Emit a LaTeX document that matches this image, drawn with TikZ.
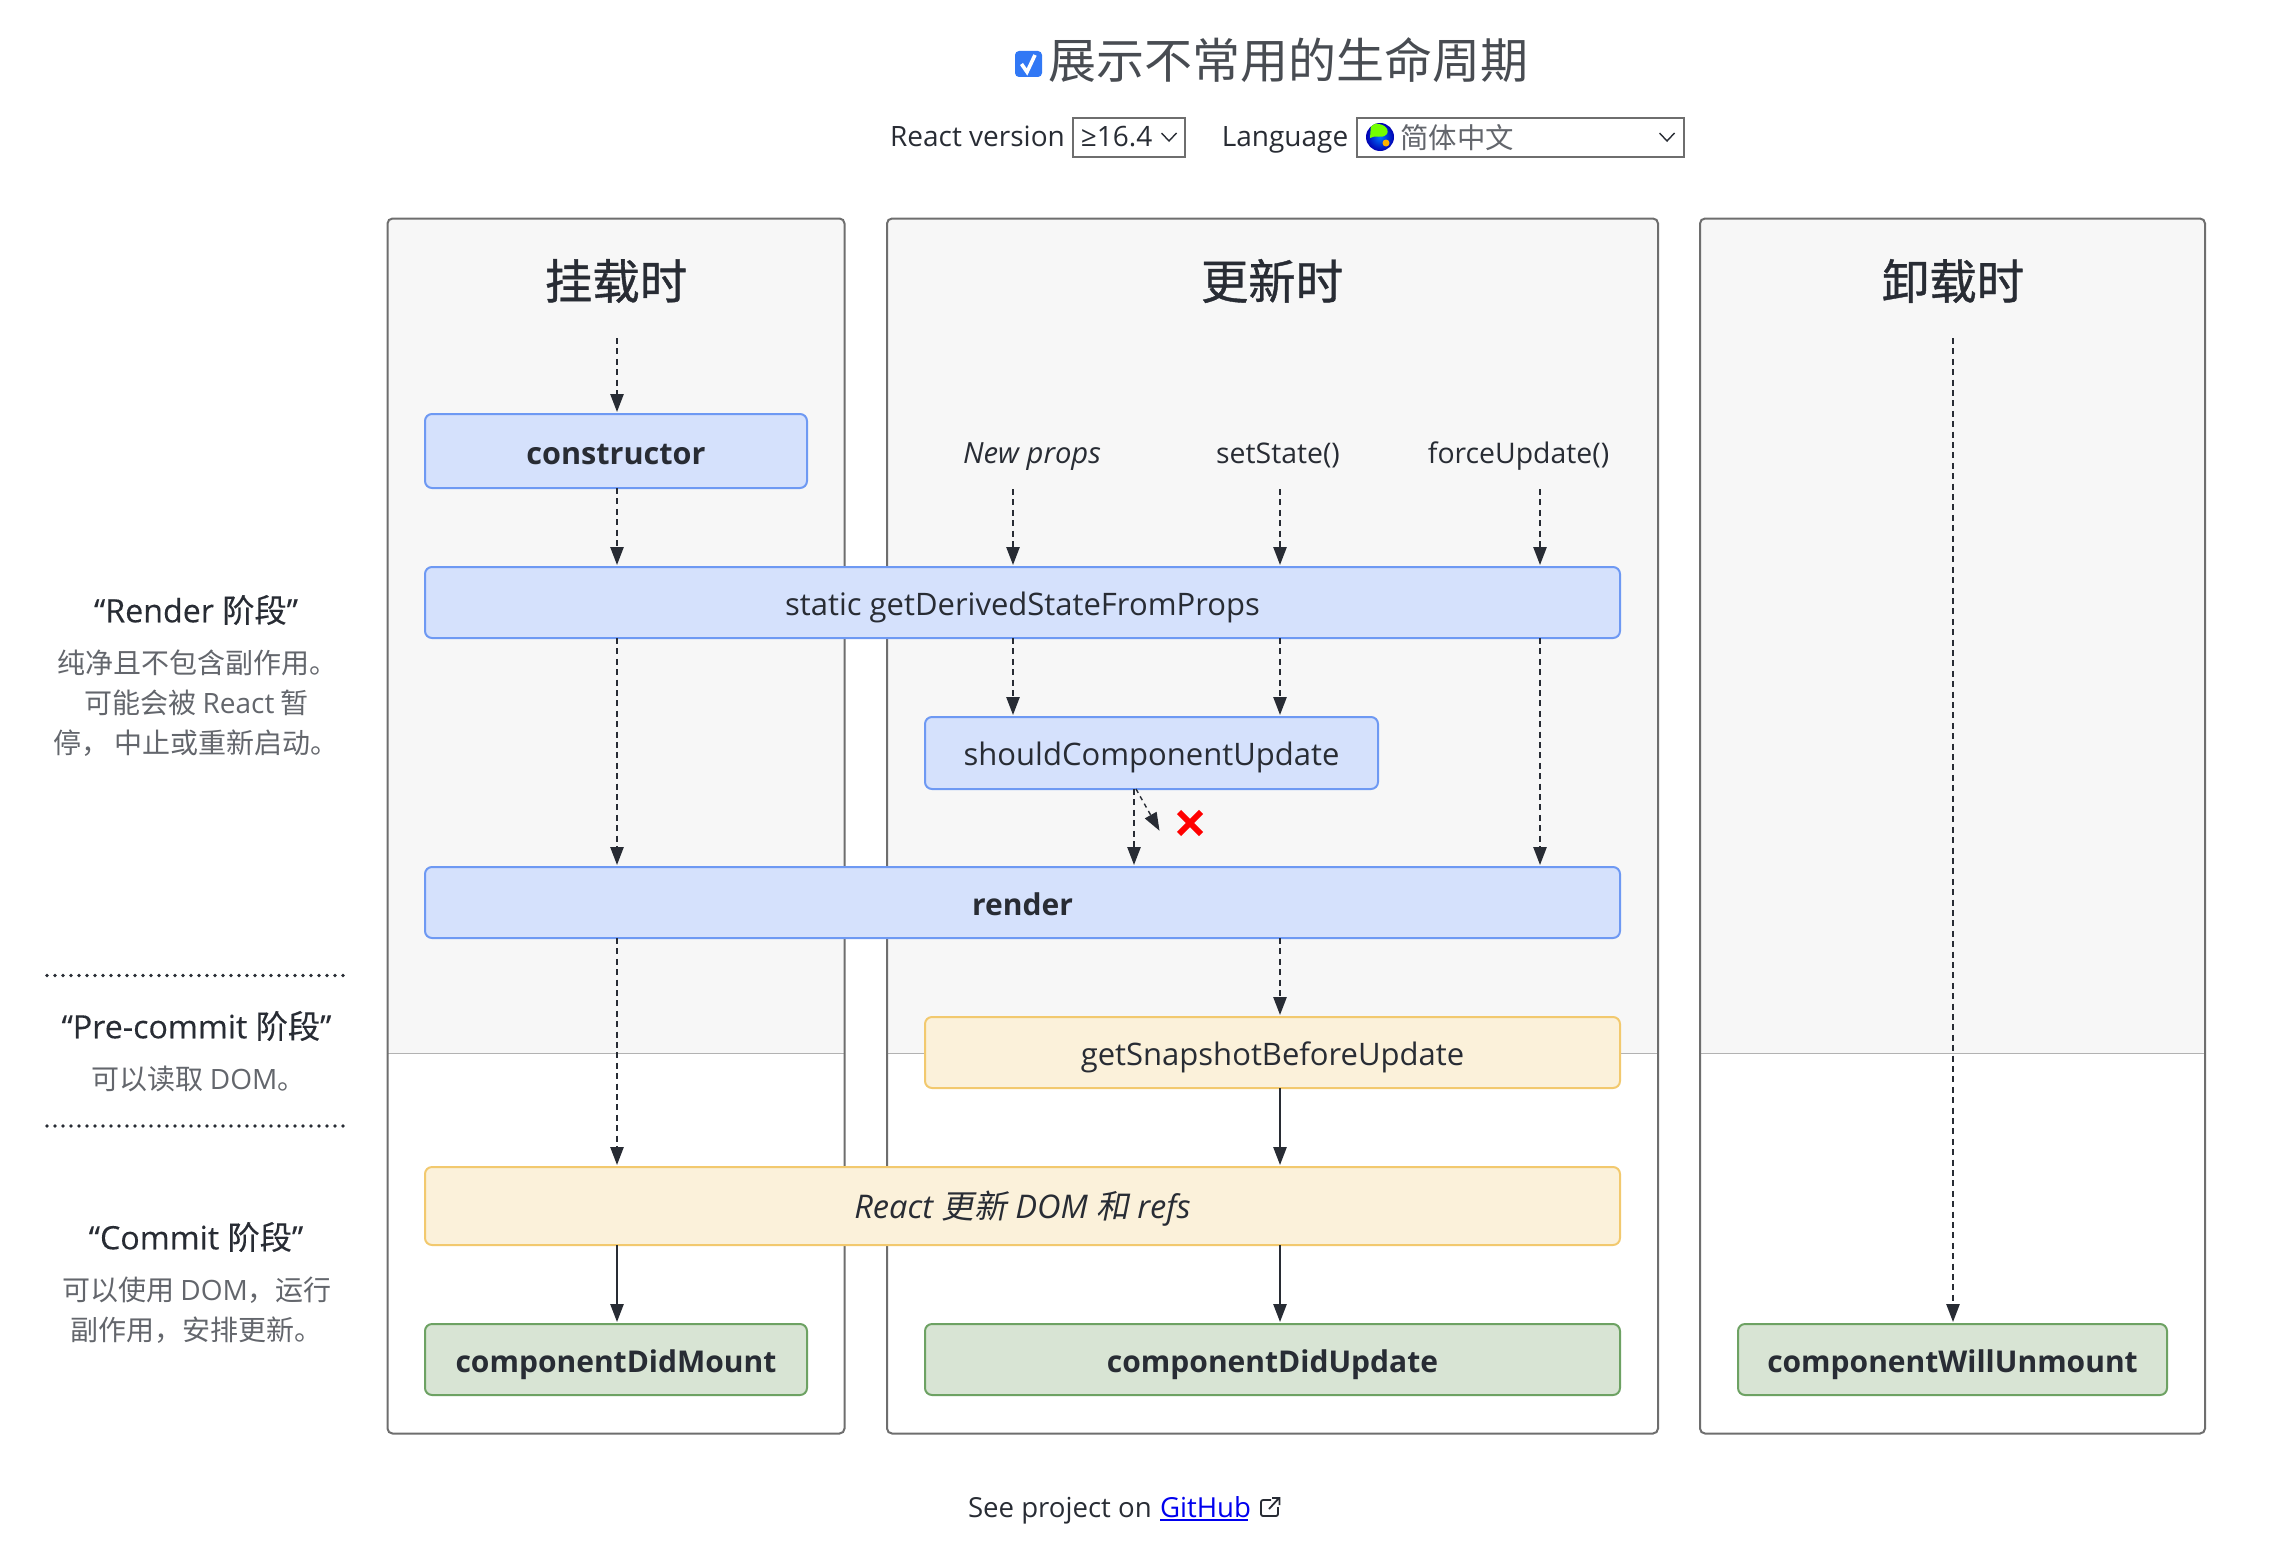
\documentclass[tikz,border=0pt]{standalone}
\usepackage{fontspec}
\usetikzlibrary{arrows.meta,calc}
\setmainfont{Open Sans}
\newfontfamily\medfont[FakeBold=0.25,ItalicFont={Open Sans Italic}]{Open Sans}
\newfontfamily\cjkfont{Noto Sans CJK SC}
\newfontfamily\cjkmed[FakeBold=0.25]{Noto Sans CJK SC}
\newfontfamily\cjkbold[FakeBold=0.8]{Noto Sans CJK SC}
\newfontfamily\cjkital[FakeSlant=0.2]{Noto Sans CJK SC}
\newcommand\fsz[1]{\fontsize{#1}{#1}\selectfont}
\definecolor{ink}{HTML}{282C34}
\definecolor{note}{HTML}{63666C}
\definecolor{panelgray}{HTML}{F7F7F7}
\definecolor{panelline}{HTML}{6E6E6E}
\definecolor{blueF}{HTML}{D5E1FC}
\definecolor{blueD}{HTML}{6E99F3}
\definecolor{yelF}{HTML}{FBF1DA}
\definecolor{yelD}{HTML}{F2C96E}
\definecolor{grnF}{HTML}{D8E4D4}
\definecolor{grnD}{HTML}{6DA263}
\definecolor{checkblue}{HTML}{3178F5}
\definecolor{linkblue}{HTML}{0000EE}
\tikzset{
  x=0.5pt,y=-0.5pt,
  every node/.style={text=ink,inner sep=0pt,outer sep=0pt,font=\fsz{14}},
  panelbox/.style={draw=panelline,line width=1pt,rounded corners=2.5pt,anchor=north west,fill=white,
    path picture={\fill[panelgray] (path picture bounding box.north west) rectangle ($(path picture bounding box.north east)+(0,835)$);
    \draw[line width=0.7pt,draw=black!30] ($(path picture bounding box.north west)+(0,835)$) -- ($(path picture bounding box.north east)+(0,835)$);}},
  lane/.style={rounded corners=3.5pt,line width=1pt,anchor=north west,text height=14pt,text depth=1.5pt,font=\fsz{15.5}},
  bluebox/.style={lane,draw=blueD,fill=blueF},
  yelbox/.style={lane,draw=yelD,fill=yelF},
  grnbox/.style={lane,draw=grnD,fill=grnF},
  strong/.style={font=\fsz{15}\bfseries},
  flow/.style={draw=ink,line width=1pt,-{Triangle[length=9pt,width=6.6pt]},shorten >=1pt},
  dflow/.style={flow,dash pattern=on 3pt off 2.2pt},
  heading/.style={font=\fsz{16.1}\medfont},
  notes/.style={font=\fsz{14}\cjkfont,text=note},
  trigger/.style={font=\fsz{14.2},text height=14pt,text depth=1.5pt},
  headerlabel/.style={text height=12pt,text depth=3pt},
  paneltitle/.style={font=\fsz{23.7}\cjkbold},
  dotline/.style={draw=ink,line width=1.8pt,line cap=round,dash pattern=on 0pt off 4pt},
  selbox/.style={draw=panelline,line width=1.1pt,anchor=north west},
  chev/.style={draw=ink,line width=0.7pt}
}
\begin{document}
\begin{tikzpicture}
\useasboundingbox (0,0) rectangle (2284,1552);
% header
\node[fill=checkblue,rounded corners=2pt,minimum width=13.5pt,minimum height=13pt] (check) at (1028.5,64) {};
\draw[white,line width=1.8pt] (1021.5,64) -- (1027,72) -- (1035,55);
\node[font=\fsz{24}\cjkfont,text=ink!85] (title) at (1288,60) {展示不常用的生命周期};
\node[headerlabel] (rv) at (977.5,138) {React version};
\node[selbox,minimum width=56pt,minimum height=19.5pt] (sel1) at (1073,118) {};
\node[headerlabel] (rvv) at (1116.5,138) {≥16.4};
\draw[chev] (1161.5,133) -- (1169,141) -- (1176.5,133);
\node[headerlabel] (lang) at (1285,138) {Language};
\node[selbox,minimum width=163.5pt,minimum height=19.5pt] (sel2) at (1357,118) {};
\begin{scope}
\clip (1380,137) circle (14);
\shade[inner color=cyan!45!blue,outer color=blue!70!black] (1380,137) circle (14);
\fill[green!55!yellow] (1371,124) .. controls (1382,122) and (1390,128) .. (1387,134) .. controls (1381,140) and (1376,134) .. (1370,138) -- cycle;
\fill[orange!60!yellow] (1386,143) circle (3.5);
\end{scope}
\node[font=\fsz{14.2}\cjkfont,text=note] (langv) at (1457,138) {简体中文};
\draw[chev] (1659.5,133) -- (1667,141) -- (1674.5,133);
% panels
\node[panelbox,minimum width=385.5pt,minimum height=607.5pt] (p2) at (887,218.5) {};
\node[panelbox,minimum width=228.5pt,minimum height=607.5pt] (p1) at (387.5,218.5) {};
\node[panelbox,minimum width=252.5pt,minimum height=607.5pt] (p3) at (1700,218.5) {};
\node[paneltitle] (t1) at (616,281) {挂载时};
\node[paneltitle] (t2) at (1272,281) {更新时};
\node[paneltitle] (t3) at (1953,281) {卸载时};
% column guides
\coordinate (a1) at (617,338);
\coordinate (a3) at (1953,338);
\coordinate (xa) at (1013,0);
\coordinate (xb) at (1280,0);
\coordinate (xc) at (1540,0);
\coordinate (xd) at (1134,0);
\coordinate (xe) at (617,0);
\coordinate (diagend) at (1160.5,832.5);
% boxes
\node[bluebox,strong,font=\fsz{15.3}\bfseries,text height=15pt,minimum width=191pt,minimum height=37pt] (ctor) at (425,414) {constructor};
\node[bluebox,minimum width=597.5pt,minimum height=35.5pt] (gdsfp) at (425,567) {static getDerivedStateFromProps};
\node[bluebox,minimum width=226.5pt,minimum height=36pt] (scu) at (925,717) {shouldComponentUpdate};
\node[bluebox,strong,minimum width=597.5pt,minimum height=35.5pt] (render) at (425,867) {render};
\node[yelbox,minimum width=347.5pt,minimum height=35.5pt] (gsbu) at (925,1017) {getSnapshotBeforeUpdate};
\node[yelbox,font=\fsz{16.3},minimum width=597.5pt,minimum height=39pt] (dom) at (425,1167) {\itshape React {\cjkital 更新} DOM {\cjkital 和} refs};
\node[grnbox,strong,minimum width=191pt,minimum height=35.5pt] (cdm) at (425,1324) {componentDidMount};
\node[grnbox,strong,minimum width=347.5pt,minimum height=35.5pt] (cdu) at (925,1324) {componentDidUpdate};
\node[grnbox,strong,minimum width=214.5pt,minimum height=35.5pt] (cwu) at (1738,1324) {componentWillUnmount};
% triggers
\node[trigger,font=\fsz{14.6}\itshape] (np) at (1032,450.5) {New props};
\node[trigger] (ss) at (1278,450.5) {setState()};
\node[trigger] (fu) at (1518.5,450.5) {forceUpdate()};
% connectors
\draw[dflow] (a1) -- (ctor.north -| a1);
\draw[dflow] (ctor.south -| xe) -- (gdsfp.north -| xe);
\draw[dflow] (gdsfp.south -| xe) -- (render.north -| xe);
\draw[dflow] (render.south -| xe) -- (dom.north -| xe);
\draw[flow] (dom.south -| xe) -- (cdm.north -| xe);
\draw[dflow] (xa |- 0,489) -- (gdsfp.north -| xa);
\draw[dflow] (xb |- 0,489) -- (gdsfp.north -| xb);
\draw[dflow] (xc |- 0,489) -- (gdsfp.north -| xc);
\draw[dflow] (gdsfp.south -| xa) -- (scu.north -| xa);
\draw[dflow] (gdsfp.south -| xb) -- (scu.north -| xb);
\draw[dflow] (gdsfp.south -| xc) -- (render.north -| xc);
\draw[dflow] (scu.south -| xd) -- (render.north -| xd);
\draw[flow,line width=0.7pt,dash pattern=on 2.2pt off 2pt] ($(scu.south -| xd)+(2,0)$) -- (diagend);
\draw[dflow] (render.south -| xb) -- (gsbu.north -| xb);
\draw[flow] (gsbu.south -| xb) -- (dom.north -| xb);
\draw[flow] (dom.south -| xb) -- (cdu.north -| xb);
\draw[dflow] (a3) -- (cwu.north -| a3);
% red cross
\draw[red,line width=2.9pt] (1179,812) -- (1201,834) (1179,834) -- (1201,812);
% phase notes
\node[heading] (h1) at (196,610) {“Render {\cjkmed 阶段}”};
\node[notes] (n1a) at (197,663) {纯净且不包含副作用。};
\node[notes] (n1b) at (196.5,703) {可能会被 {\rmfamily React} 暂};
\node[notes] (n1c) at (196,743.5) {停，\,中止或重新启动。};
\draw[dotline] (47,975.5) -- (347,975.5);
\node[heading] (h2) at (196.5,1026) {“Pre-commit {\cjkmed 阶段}”};
\node[notes] (n2) at (198.5,1079) {可以读取 {\rmfamily DOM}。};
\draw[dotline] (47,1126) -- (347,1126);
\node[heading] (h3) at (196,1237) {“Commit {\cjkmed 阶段}”};
\node[notes] (n3a) at (197,1290) {可以使用 {\rmfamily DOM}，运行};
\node[notes] (n3b) at (196,1330) {副作用，安排更新。};
% footer
\node[anchor=base west,font=\fsz{13.8}] (see) at (968,1517) {See project on};
\node[anchor=base west,font=\fsz{13.8},text=linkblue] (gh) at (1160,1517) {GitHub};
\draw[linkblue,line width=0.7pt] (1160,1520) -- (1248,1520);
\draw[ink,line width=0.9pt,rounded corners=1pt] (1271,1500) -- (1261,1500) -- (1261,1516) -- (1278,1516) -- (1278,1507);
\draw[ink,line width=0.9pt] (1269,1509) -- (1279,1498) (1272,1498) -- (1279.5,1498) -- (1279.5,1505);
\end{tikzpicture}
\end{document}
